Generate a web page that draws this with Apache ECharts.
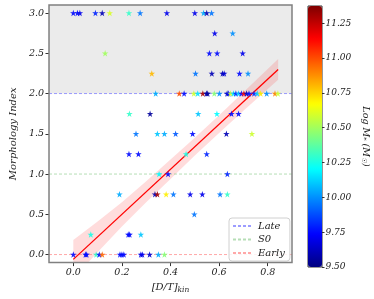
<!DOCTYPE html>
<html>
<head>
<meta charset="utf-8">
<script src="https://cdn.jsdelivr.net/npm/echarts@6/dist/echarts.min.js"></script>
<style>html,body{margin:0;padding:0;background:#fff}#c{width:374px;height:299px}</style>
</head>
<body>
<div id="c"></div>
<script>
// ---- data ----
const xTicks = [0, 0.2, 0.4, 0.6, 0.8];
const yTicks = [0, 0.5, 1, 1.5, 2, 2.5, 3];
const cbTicks = [9.5, 9.75, 10, 10.25, 10.5, 10.75, 11, 11.25];

// [D/T]kin of each galaxy
const dtKin = [
  0.0,0.017,0.027,0.091,0.119,0.15,0.229,0.275,0.385,0.5,0.536,0.549,0.569,
  0.582,0.656,
  0.131,0.56,0.592,0.697,
  0.323,0.503,0.57,0.614,0.621,0.684,0.719,
  0.339,0.436,0.456,0.496,0.512,0.533,0.548,0.553,0.580,0.601,0.633,0.639,0.647,0.659,0.669,0.680,0.692,0.702,0.713,0.723,0.744,0.757,0.771,0.796,0.830,0.842,
  0.231,0.316,0.514,0.591,0.651,0.68,
  0.258,0.346,0.375,0.421,0.491,0.63,0.735,
  0.229,0.268,0.464,0.549,
  0.353,0.39,0.634,
  0.19,0.336,0.346,0.382,0.412,0.481,0.531,0.604,0.634,
  0.498,
  0.072,0.226,0.232,0.278,
  0.0,0.05,0.055,0.094,0.107,0.119,0.192,0.2,0.208,0.278,0.284,0.314,0.35,0.375
];
// morphology index of each galaxy
const morph = [
  3,3,3,3,3,3,3,3,3,3,3,3,3,
  2.75,2.75,
  2.5,2.5,2.5,2.5,
  2.25,2.25,2.25,2.25,2.25,2.25,2.25,
  2,2,2,2,2,2,2,2,2,2,2,2,2,2,2,2,2,2,2,2,2,2,2,2,2,2,
  1.75,1.75,1.75,1.75,1.75,1.75,
  1.5,1.5,1.5,1.5,1.5,1.5,1.5,
  1.25,1.25,1.25,1.25,
  1,1,1,
  0.75,0.75,0.75,0.75,0.75,0.75,0.75,0.75,0.75,
  0.5,
  0.25,0.25,0.25,0.25,
  0,0,0,0,0,0,0,0,0,0,0,0,0,0
];
// Log M* of each galaxy
const logMass = [
  9.75,9.75,9.7,9.8,9.6,10.6,10.3,9.95,9.7,9.7,10.05,9.6,9.95,
  9.7,10.0,
  10.5,9.75,9.75,9.7,
  10.8,9.95,9.6,9.6,9.65,9.75,10.0,
  10.05,11.0,9.75,10.58,10.15,11.3,9.6,9.55,10.45,10.0,9.6,9.75,10.58,10.15,9.8,10.1,9.75,11.15,9.6,9.75,9.8,10.1,10.7,10.0,10.9,10.58,
  10.3,9.55,10.1,10.2,9.75,9.75,
  9.95,10.1,10.05,9.9,9.75,9.6,10.58,
  9.75,9.75,10.25,9.8,
  10.2,9.75,9.8,
  10.05,9.6,11.3,10.7,9.95,9.7,9.7,9.95,10.3,
  9.95,
  10.25,9.75,9.75,10.1,
  9.75,9.75,9.75,10.3,9.75,10.95,9.75,9.75,9.75,9.7,9.7,9.65,10.05,10.45
];
// regression line and its confidence band
const fitX = [0, 0.843];
const fitY = [-0.06, 2.30];
const bandX = [0, 0.1, 0.2, 0.3, 0.4, 0.5, 0.6, 0.7, 0.843];
const bandLow = [-0.30, 0.03, 0.35, 0.65, 0.94, 1.23, 1.51, 1.785, 2.17];
const bandHigh = [0.18, 0.41, 0.65, 0.91, 1.18, 1.45, 1.73, 2.015, 2.43];
// reference levels
const levelNames = ['Late', 'S0', 'Early'];
const levelValues = [2, 1, 0];

const X_MIN = -0.1, X_MAX = 0.9, Y_MIN = -0.1, Y_MAX = 3.1;
const M_MIN = 9.5, M_MAX = 11.374;

const jet = ['#00007f','#0000ff','#007fff','#00ffff','#7fff7f','#ffff00','#ff7f00','#ff0000','#7f0000'];
const FONT = 'DejaVu Serif';
const STAR = 'path://M50,2 L61.2,36.3 L97.5,36.3 L68.2,57.7 L79.4,92 L50,70.8 L20.6,92 L31.8,57.7 L2.5,36.3 L38.8,36.3 Z';
const levelColors = ['rgba(90,90,255,0.6)', 'rgba(110,190,110,0.5)', 'rgba(255,110,110,0.6)'];

const points = dtKin.map((x, i) => [x, morph[i], logMass[i]]);

const chart = echarts.init(document.getElementById('c'), null, {renderer: 'canvas'});

const levelSeries = levelNames.map((n, i) => {
  const s = {
    name: n, type: 'line', xAxisIndex: 0, yAxisIndex: 0,
    data: [[X_MIN, levelValues[i]], [X_MAX, levelValues[i]]],
    symbol: 'none', silent: true, z: 3,
    lineStyle: {color: levelColors[i], width: 1, type: [3, 2]},
    itemStyle: {color: levelColors[i]}
  };
  if (i === 0) {
    s.markArea = {silent: true, itemStyle: {color: '#ebebeb'}, data: [[{yAxis: 2}, {yAxis: Y_MAX}]]};
  }
  return s;
});

const option = {
  animation: false,
  backgroundColor: '#fff',
  grid: [
    {left: 36, top: 5, width: 256, height: 261.5, show: true, borderColor: '#808080', borderWidth: 1.5, backgroundColor: 'transparent', z: 10},
    {left: 308, top: 6, width: 14, height: 261, show: true, borderColor: '#333', borderWidth: 1, backgroundColor: 'transparent'}
  ],
  xAxis: [
    {
      type: 'value', gridIndex: 0, min: X_MIN, max: X_MAX, position: 'bottom',
      splitLine: {show: false}, axisLine: {show: false, onZero: false},
      axisTick: {show: true, length: 3.5, inside: false, customValues: xTicks, lineStyle: {color: '#333'}},
      axisLabel: {customValues: xTicks, formatter: v => v.toFixed(1), margin: 5, fontFamily: FONT, fontStyle: 'italic', fontSize: 9.5, color: '#222'},
      name: '{a|[D/T]}{b|kin}', nameLocation: 'middle', nameGap: 14,
      nameTextStyle: {rich: {
        a: {fontFamily: FONT, fontStyle: 'italic', fontSize: 10, color: '#222'},
        b: {fontFamily: FONT, fontStyle: 'italic', fontSize: 7.5, color: '#222', padding: [5, 0, 0, 0]}
      }}
    },
    {type: 'value', gridIndex: 1, min: 0, max: 1, show: false}
  ],
  yAxis: [
    {
      type: 'value', gridIndex: 0, min: Y_MIN, max: Y_MAX, position: 'left',
      splitLine: {show: false}, axisLine: {show: false, onZero: false},
      axisTick: {show: true, length: 3.5, inside: false, customValues: yTicks, lineStyle: {color: '#333'}},
      axisLabel: {customValues: yTicks, formatter: v => v.toFixed(1), margin: 5, fontFamily: FONT, fontStyle: 'italic', fontSize: 9.5, color: '#222'},
      name: 'Morphology Index', nameLocation: 'middle', nameGap: 17,
      nameTextStyle: {fontFamily: FONT, fontStyle: 'italic', fontSize: 10, color: '#222'}
    },
    {
      type: 'value', gridIndex: 1, min: M_MIN, max: M_MAX, position: 'right',
      splitLine: {show: false}, axisLine: {show: false, onZero: false},
      axisTick: {show: true, length: 2.5, customValues: cbTicks, lineStyle: {color: '#333'}},
      axisLabel: {customValues: cbTicks, formatter: v => v.toFixed(2), margin: 3.5, fontFamily: FONT, fontStyle: 'italic', fontSize: 9, color: '#222'},
      name: 'Log {m|M}{s|*} ({m|M}{s|☉})', nameLocation: 'middle', nameRotate: -90, nameGap: 38,
      nameTextStyle: {fontFamily: FONT, fontStyle: 'italic', fontSize: 9.5, color: '#222', rich: {
        m: {fontFamily: FONT, fontStyle: 'italic', fontSize: 9.5, color: '#222'},
        s: {fontFamily: FONT, fontStyle: 'italic', fontSize: 6.5, color: '#222', padding: [4, 0, 0, 0]}
      }}
    }
  ],
  visualMap: {
    type: 'continuous', min: M_MIN, max: M_MAX, dimension: 2, seriesIndex: 5,
    left: 308, top: 6, itemWidth: 14, itemHeight: 261, padding: 0,
    calculable: false, realtime: false, hoverLink: false, text: null, showLabel: false,
    inRange: {color: jet}
  },
  legend: {
    data: levelNames, orient: 'vertical', left: 229, top: 218,
    itemWidth: 20, itemHeight: 8, itemGap: 3.5,
    itemStyle: {opacity: 0},
    padding: [3, 5, 3, 3], backgroundColor: 'rgba(255,255,255,0.85)',
    borderColor: '#d0d0d0', borderWidth: 1, borderRadius: 3,
    textStyle: {fontFamily: FONT, fontStyle: 'italic', fontSize: 10, color: '#222'}
  },
  series: [
    ...levelSeries,
    {
      type: 'custom', xAxisIndex: 0, yAxisIndex: 0, silent: true, z: 2,
      data: bandX.map((x, i) => [x, bandLow[i], bandHigh[i]]),
      encode: {x: 0, y: [1, 2]},
      renderItem: function (params, api) {
        if (params.dataIndex !== 0) return null;
        const up = bandX.map((x, i) => api.coord([x, bandHigh[i]]));
        const lo = bandX.map((x, i) => api.coord([x, bandLow[i]])).reverse();
        const cs = params.coordSys;
        return {
          type: 'polygon', shape: {points: up.concat(lo)},
          style: {fill: 'rgba(255,60,60,0.18)'},
          clipPath: {type: 'rect', shape: {x: cs.x, y: cs.y, width: cs.width, height: cs.height}}
        };
      }
    },
    {
      type: 'line', xAxisIndex: 0, yAxisIndex: 0, silent: true, z: 4,
      data: fitX.map((x, i) => [x, fitY[i]]), symbol: 'none',
      lineStyle: {color: '#ff0000', width: 1.3}
    },
    {
      type: 'scatter', xAxisIndex: 0, yAxisIndex: 0, z: 5,
      data: points, symbol: STAR, symbolSize: 6.5,
      itemStyle: {opacity: 0.9}
    }
  ]
};
option.visualMap.seriesIndex = option.series.length - 1;
chart.setOption(option);
</script>
</body>
</html>
